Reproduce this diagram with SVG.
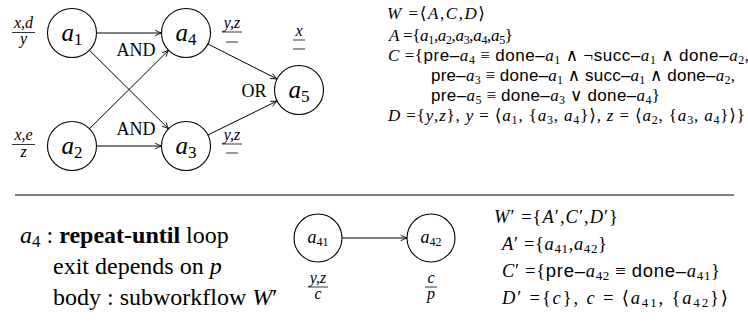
<svg xmlns="http://www.w3.org/2000/svg" width="748" height="331" viewBox="0 0 748 331">
<style>
.bg{fill:#fff}
.node circle{fill:#fff;stroke:#000;stroke-width:1.1}
.edges line{stroke:#000;stroke-width:1;marker-end:url(#arr)}
text{font-family:"Liberation Serif","DejaVu Serif",serif;fill:#000}
.it{font-style:italic}
.lbl{font-size:25px;font-style:italic}
.sub{font-size:17px;font-style:normal}
.slbl{font-size:18px;font-style:italic}
.ssub{font-size:12px;font-style:normal}
.gate{font-size:18px}
.fr{font-size:16px;font-style:italic}
.frl{stroke:#000;stroke-width:0.8}
.f text{font-size:17px}
.g text{font-size:18.5px}
.fs{font-size:12px}
.g .fs{font-size:13px}
.sf{font-family:"Liberation Sans","DejaVu Sans",sans-serif}
.t text{font-size:24px}
.b{font-weight:bold}
.rule{stroke:#555;stroke-width:1.3}
</style>
<defs>
<marker id="arr" viewBox="0 0 10 10" refX="9" refY="5" markerWidth="8" markerHeight="8" markerUnits="userSpaceOnUse" orient="auto">
<path d="M1,1.5 Q6,4.2 9.5,5 Q6,5.8 1,8.5" fill="none" stroke="#000" stroke-width="1.1"/>
</marker>
</defs>
<rect class="bg" width="748" height="331"/>

<g id="connectors" class="edges">
<line x1="96.5" y1="33" x2="161.5" y2="33"/>
<line x1="96.5" y1="146" x2="161.5" y2="146"/>
<line x1="89.4" y1="50.2" x2="168.6" y2="128.8"/>
<line x1="89.4" y1="128.8" x2="168.6" y2="50.2"/>
<line x1="207.9" y1="44" x2="277.1" y2="79"/>
<line x1="207.9" y1="135" x2="277.1" y2="101"/>
<line x1="342" y1="238" x2="407" y2="238"/>
</g>

<g id="a1" class="node">
<circle cx="72" cy="33" r="24.5"/>
<text class="lbl" x="72" y="41" text-anchor="middle">a<tspan class="sub" dy="4">1</tspan></text>
</g>
<g id="a2" class="node">
<circle cx="72" cy="146" r="24.5"/>
<text class="lbl" x="72" y="154" text-anchor="middle">a<tspan class="sub" dy="4">2</tspan></text>
</g>
<g id="a4" class="node">
<circle cx="186" cy="33" r="24.5"/>
<text class="lbl" x="186" y="41" text-anchor="middle">a<tspan class="sub" dy="4">4</tspan></text>
</g>
<g id="a3" class="node">
<circle cx="186" cy="146" r="24.5"/>
<text class="lbl" x="186" y="154" text-anchor="middle">a<tspan class="sub" dy="4">3</tspan></text>
</g>
<g id="a5" class="node">
<circle cx="299" cy="90" r="24.5"/>
<text class="lbl" x="299" y="98" text-anchor="middle">a<tspan class="sub" dy="4">5</tspan></text>
</g>

<g id="gates">
<text class="gate" x="136" y="56" text-anchor="middle">AND</text>
<text class="gate" x="136" y="135" text-anchor="middle">AND</text>
<text class="gate" x="254" y="97" text-anchor="middle">OR</text>
</g>

<g id="fractions">
<text class="fr" x="23.5" y="28" text-anchor="middle">x,d</text>
<line class="frl" x1="12" y1="32.5" x2="35" y2="32.5"/>
<text class="fr" x="23.5" y="44" text-anchor="middle">y</text>

<text class="fr" x="23.5" y="140" text-anchor="middle">x,e</text>
<line class="frl" x1="12" y1="144.5" x2="35" y2="144.5"/>
<text class="fr" x="23.5" y="157" text-anchor="middle">z</text>

<text class="fr" x="232" y="28" text-anchor="middle">y,z</text>
<line class="frl" x1="222" y1="32" x2="242" y2="32"/>
<line class="frl" x1="226" y1="42" x2="238" y2="42"/>

<text class="fr" x="299" y="36" text-anchor="middle">x</text>
<line class="frl" x1="293" y1="40" x2="305" y2="40"/>
<line class="frl" x1="293" y1="49" x2="305" y2="49"/>

<text class="fr" x="232" y="140" text-anchor="middle">y,z</text>
<line class="frl" x1="222" y1="144" x2="242" y2="144"/>
<line class="frl" x1="226" y1="153" x2="238" y2="153"/>
</g>

<g id="formulas-top" class="f">
<text x="387" y="19" textLength="98" lengthAdjust="spacing"><tspan class="it">W</tspan> =⟨<tspan class="it">A</tspan>,<tspan class="it">C</tspan>,<tspan class="it">D</tspan>⟩</text>
<text x="389" y="41" textLength="124" lengthAdjust="spacing"><tspan class="it">A</tspan> ={<tspan class="it">a</tspan><tspan class="fs" dy="3">1</tspan><tspan dy="-3">,</tspan><tspan class="it">a</tspan><tspan class="fs" dy="3">2</tspan><tspan dy="-3">,</tspan><tspan class="it">a</tspan><tspan class="fs" dy="3">3</tspan><tspan dy="-3">,</tspan><tspan class="it">a</tspan><tspan class="fs" dy="3">4</tspan><tspan dy="-3">,</tspan><tspan class="it">a</tspan><tspan class="fs" dy="3">5</tspan><tspan dy="-3">}</tspan></text>
<text x="388" y="61" textLength="361" lengthAdjust="spacing"><tspan class="it">C</tspan> ={<tspan class="sf">pre–</tspan><tspan class="it">a</tspan><tspan class="fs" dy="3">4</tspan><tspan dy="-3"> ≡ </tspan><tspan class="sf">done–</tspan><tspan class="it">a</tspan><tspan class="fs" dy="3">1</tspan><tspan dy="-3"> ∧ ¬</tspan><tspan class="sf">succ–</tspan><tspan class="it">a</tspan><tspan class="fs" dy="3">1</tspan><tspan dy="-3"> ∧ </tspan><tspan class="sf">done–</tspan><tspan class="it">a</tspan><tspan class="fs" dy="3">2</tspan><tspan dy="-3">,</tspan></text>
<text x="431" y="81" textLength="304" lengthAdjust="spacing"><tspan class="sf">pre–</tspan><tspan class="it">a</tspan><tspan class="fs" dy="3">3</tspan><tspan dy="-3"> ≡ </tspan><tspan class="sf">done–</tspan><tspan class="it">a</tspan><tspan class="fs" dy="3">1</tspan><tspan dy="-3"> ∧ </tspan><tspan class="sf">succ–</tspan><tspan class="it">a</tspan><tspan class="fs" dy="3">1</tspan><tspan dy="-3"> ∧ </tspan><tspan class="sf">done–</tspan><tspan class="it">a</tspan><tspan class="fs" dy="3">2</tspan><tspan dy="-3">,</tspan></text>
<text x="431" y="101" textLength="229" lengthAdjust="spacing"><tspan class="sf">pre–</tspan><tspan class="it">a</tspan><tspan class="fs" dy="3">5</tspan><tspan dy="-3"> ≡ </tspan><tspan class="sf">done–</tspan><tspan class="it">a</tspan><tspan class="fs" dy="3">3</tspan><tspan dy="-3"> ∨ </tspan><tspan class="sf">done–</tspan><tspan class="it">a</tspan><tspan class="fs" dy="3">4</tspan><tspan dy="-3">}</tspan></text>
<text x="388" y="121" textLength="357" lengthAdjust="spacing"><tspan class="it">D</tspan> ={<tspan class="it">y</tspan>,<tspan class="it">z</tspan>}, <tspan class="it">y</tspan> = ⟨<tspan class="it">a</tspan><tspan class="fs" dy="3">1</tspan><tspan dy="-3">, {</tspan><tspan class="it">a</tspan><tspan class="fs" dy="3">3</tspan><tspan dy="-3">, </tspan><tspan class="it">a</tspan><tspan class="fs" dy="3">4</tspan><tspan dy="-3">}⟩, </tspan><tspan class="it">z</tspan> = ⟨<tspan class="it">a</tspan><tspan class="fs" dy="3">2</tspan><tspan dy="-3">, {</tspan><tspan class="it">a</tspan><tspan class="fs" dy="3">3</tspan><tspan dy="-3">, </tspan><tspan class="it">a</tspan><tspan class="fs" dy="3">4</tspan><tspan dy="-3">}⟩}</tspan></text>
</g>

<line class="rule" x1="15" y1="195" x2="734" y2="195"/>

<g id="loop-text" class="t">
<text x="20" y="243"><tspan class="it">a</tspan><tspan font-size="17" dy="4">4</tspan><tspan dy="-4"> : </tspan><tspan class="b">repeat-until</tspan> loop</text>
<text x="53" y="274">exit depends on <tspan class="it">p</tspan></text>
<text x="53" y="305">body : subworkflow <tspan class="it">W</tspan>′</text>
</g>

<g id="a41" class="node">
<circle cx="318" cy="238" r="24"/>
<text class="slbl" x="318" y="243" text-anchor="middle">a<tspan class="ssub" dy="3">41</tspan></text>
</g>
<g id="a42" class="node">
<circle cx="431" cy="238" r="24"/>
<text class="slbl" x="431" y="243" text-anchor="middle">a<tspan class="ssub" dy="3">42</tspan></text>
</g>

<g id="fractions-bottom">
<text class="fr" x="318" y="283" text-anchor="middle">y,z</text>
<line class="frl" x1="308" y1="287" x2="328" y2="287"/>
<text class="fr" x="318" y="299" text-anchor="middle">c</text>
<text class="fr" x="431" y="283" text-anchor="middle">c</text>
<line class="frl" x1="425" y1="287" x2="437" y2="287"/>
<text class="fr" x="431" y="299" text-anchor="middle">p</text>
</g>

<g id="formulas-bottom" class="g">
<text x="494" y="223" textLength="124" lengthAdjust="spacing"><tspan class="it">W</tspan>′ ={<tspan class="it">A</tspan>′,<tspan class="it">C</tspan>′,<tspan class="it">D</tspan>′}</text>
<text x="502" y="250" textLength="105" lengthAdjust="spacing"><tspan class="it">A</tspan>′ ={<tspan class="it">a</tspan><tspan class="fs" dy="3">41</tspan><tspan dy="-3">,</tspan><tspan class="it">a</tspan><tspan class="fs" dy="3">42</tspan><tspan dy="-3">}</tspan></text>
<text x="502" y="277" textLength="218" lengthAdjust="spacing"><tspan class="it">C</tspan>′ ={<tspan class="sf">pre–</tspan><tspan class="it">a</tspan><tspan class="fs" dy="3">42</tspan><tspan dy="-3"> ≡ </tspan><tspan class="sf">done–</tspan><tspan class="it">a</tspan><tspan class="fs" dy="3">41</tspan><tspan dy="-3">}</tspan></text>
<text x="502" y="304" textLength="226" lengthAdjust="spacing"><tspan class="it">D</tspan>′ ={<tspan class="it">c</tspan>}, <tspan class="it">c</tspan> = ⟨<tspan class="it">a</tspan><tspan class="fs" dy="3">41</tspan><tspan dy="-3">, {</tspan><tspan class="it">a</tspan><tspan class="fs" dy="3">42</tspan><tspan dy="-3">}⟩</tspan></text>
</g>
</svg>
